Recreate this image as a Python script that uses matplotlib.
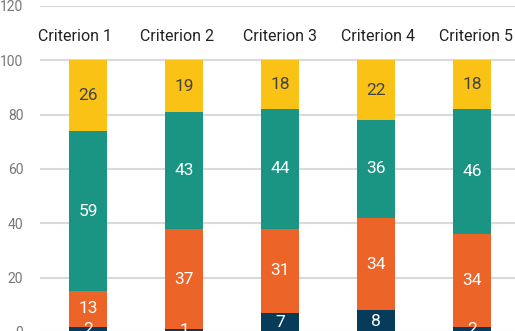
import numpy as np
import matplotlib.pyplot as plt

plt.rcParams['font.family'] = ['Roboto', 'DejaVu Sans']

criteria = ["Criterion 1", "Criterion 2", "Criterion 3", "Criterion 4", "Criterion 5"]
navy = [2, 1, 7, 8, 2]
orange = [13, 37, 31, 34, 34]
teal = [59, 43, 44, 36, 46]
yellow = [26, 19, 18, 22, 18]

series = [navy, orange, teal, yellow]
colors = ["#073B5A", "#EC6428", "#1A9583", "#FBC216"]
text_colors = ["white", "white", "white", "#444444"]
# header label positions (slightly off the bar centres, as in the source)
header_x = [-0.14, 0.93, 2.0, 3.02, 4.04]

fig = plt.figure(figsize=(5.15, 3.31), dpi=100)
ax = fig.add_axes([40 / 515, -0.003, 480 / 515, 0.985])

x = np.arange(len(criteria))
bottom = np.zeros(len(criteria))
for vals, c, tc in zip(series, colors, text_colors):
    vals = np.array(vals)
    ax.bar(x, vals, 0.4, bottom=bottom, color=c, zorder=3)
    for xi, b, v in zip(x, bottom, vals):
        ax.text(xi, b + v / 2, str(v), ha="center", va="center",
                color=tc, fontsize=12.5, zorder=4)
    bottom = bottom + vals

for hx, name in zip(header_x, criteria):
    ax.text(hx, 108.7, name, ha="center", va="center", fontsize=11.5, color="#222222")

ax.set_xlim(-0.5, 4.5)
ax.set_ylim(0, 120)
ax.set_yticks(range(0, 121, 20))
ax.set_xticks([])
ax.yaxis.grid(True, color="#d9d9d9", linewidth=1.5, zorder=0)
for s in ax.spines.values():
    s.set_visible(False)
ax.tick_params(axis="y", length=0, pad=12, labelsize=10, labelcolor="#777777")

fig.savefig("out.png", dpi=100)
